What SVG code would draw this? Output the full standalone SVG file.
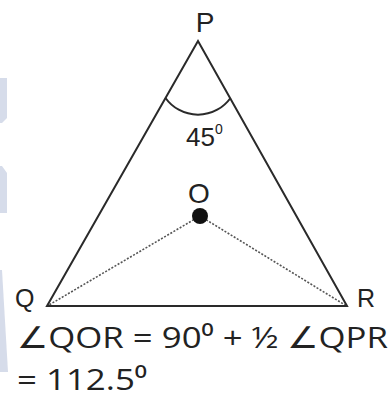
<svg xmlns="http://www.w3.org/2000/svg" width="391" height="400" viewBox="0 0 391 400">
<style>
.lbl{font-family:"Liberation Sans",Arial,sans-serif;fill:#222}
.eq{font-family:"Open Sans","DejaVu Sans",sans-serif;fill:#222;font-size:30px}
.side{stroke:#2a2a2a;stroke-width:2;fill:none;stroke-linejoin:miter}
.dot{stroke:#555;stroke-width:1.6;stroke-dasharray:2 1.6;fill:none}
</style>
<rect width="391" height="400" fill="#ffffff"/>
<g id="watermark" fill="#d6dcea">
<polygon points="0,78 7,78 7,118 2,123 0,123"/>
<polygon points="0,166 2,166 7,173 7,213 0,213"/>
<polygon points="0,270 2,270 8,372 0,372"/>
</g>
<g id="connectors">
<line class="dot" x1="200" y1="216" x2="49" y2="305"/>
<line class="dot" x1="200" y1="216" x2="345" y2="305"/>
</g>
<g id="triangle">
<polygon class="side" points="198,41 47,306 347,306"/>
<path class="side" d="M165.5,98 A40,40 0 0,0 230.5,98"/>
</g>
<g id="P"><text class="lbl" x="205" y="32" font-size="28" text-anchor="middle">P</text></g>
<g id="angle"><text class="lbl" x="186" y="146" font-size="26">45<tspan font-size="14" dy="-12">0</tspan></text></g>
<g id="O">
<text class="lbl" x="199" y="203" font-size="28" text-anchor="middle">O</text>
<circle cx="200" cy="216" r="8" fill="#111"/>
</g>
<g id="Q"><text class="lbl" x="15" y="307" font-size="25">Q</text></g>
<g id="R"><text class="lbl" x="357" y="307" font-size="25">R</text></g>
<g id="equation">
<text class="eq" x="17" y="348" textLength="371" lengthAdjust="spacingAndGlyphs">∠QOR = 90⁰ + ½ ∠QPR</text>
<text class="eq" x="17" y="390" textLength="130" lengthAdjust="spacingAndGlyphs">= 112.5⁰</text>
</g>
</svg>
